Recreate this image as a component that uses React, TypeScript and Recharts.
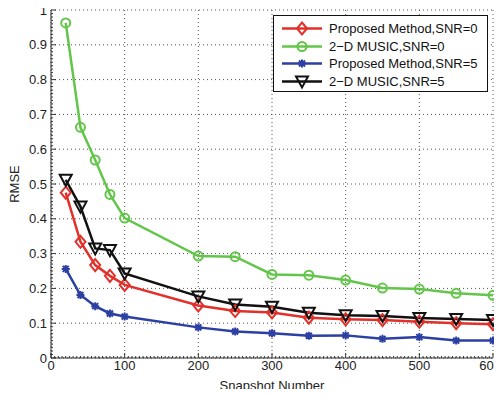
import React from "react";
import { LineChart, Line, XAxis, YAxis, CartesianGrid } from "recharts";

// snapshot counts on the x axis
const snapshots = [20, 40, 60, 80, 100, 200, 250, 300, 350, 400, 450, 500, 550, 600];

const proposedSnr0 = [0.475, 0.334, 0.267, 0.236, 0.21, 0.151, 0.135, 0.131, 0.116, 0.111, 0.109, 0.104, 0.1, 0.097];
const musicSnr0 = [0.963, 0.663, 0.569, 0.47, 0.402, 0.293, 0.291, 0.24, 0.238, 0.224, 0.201, 0.198, 0.186, 0.18];
const proposedSnr5 = [0.256, 0.181, 0.149, 0.128, 0.119, 0.088, 0.076, 0.071, 0.064, 0.065, 0.055, 0.06, 0.05, 0.05];
const musicSnr5 = [0.512, 0.435, 0.315, 0.31, 0.243, 0.177, 0.154, 0.147, 0.13, 0.123, 0.121, 0.115, 0.112, 0.109];

const xTicks = [0, 100, 200, 300, 400, 500, 600];
const yTicks = [0, 0.1, 0.2, 0.3, 0.4, 0.5, 0.6, 0.7, 0.8, 0.9, 1];
// minor ticks, matlab style
const xMinor = Array.from({ length: 121 }, (_, i) => i * 5);
const yMinor = Array.from({ length: 101 }, (_, i) => i / 100);

const RED = "#e2302a";
const GREEN = "#63c64b";
const BLUE = "#2c3fa3";
const BLACK = "#111111";
const AXIS = "#333";

const FONT = "'Liberation Sans', Arial, sans-serif";

const data = snapshots.map((x, i) => ({
    x,
    p0: proposedSnr0[i],
    m0: musicSnr0[i],
    p5: proposedSnr5[i],
    m5: musicSnr5[i],
}));

type Shape = "diamond" | "circle" | "star" | "triangle";

function Marker({ cx, cy, shape, color }: { cx: number; cy: number; shape: Shape; color: string }) {
    if (shape === "diamond") {
        return (
            <path
                d={`M${cx},${cy - 6} L${cx + 5},${cy} L${cx},${cy + 6} L${cx - 5},${cy} Z`}
                fill="none"
                stroke={color}
                strokeWidth={2}
            />
        );
    }
    if (shape === "circle") {
        return <circle cx={cx} cy={cy} r={4.5} fill="none" stroke={color} strokeWidth={2} />;
    }
    if (shape === "triangle") {
        return (
            <path
                d={`M${cx - 6},${cy - 5} L${cx + 6},${cy - 5} L${cx},${cy + 6} Z`}
                fill="none"
                stroke={color}
                strokeWidth={2}
            />
        );
    }
    return (
        <path
            d={`M${cx - 4},${cy} L${cx + 4},${cy} M${cx},${cy - 4} L${cx},${cy + 4} M${cx - 3},${cy - 3} L${cx + 3},${cy + 3} M${cx - 3},${cy + 3} L${cx + 3},${cy - 3}`}
            stroke={color}
            strokeWidth={2}
        />
    );
}

const series: { key: string; label: string; color: string; shape: Shape }[] = [
    { key: "p0", label: "Proposed Method,SNR=0", color: RED, shape: "diamond" },
    { key: "m0", label: "2\u2212D MUSIC,SNR=0", color: GREEN, shape: "circle" },
    { key: "p5", label: "Proposed Method,SNR=5", color: BLUE, shape: "star" },
    { key: "m5", label: "2\u2212D MUSIC,SNR=5", color: BLACK, shape: "triangle" },
];

const isMajorX = (v: number) => v % 100 === 0;
const isMajorY = (v: number) => Math.round(v * 100) % 10 === 0;
const fmtY = (v: number) => (v === 0 ? "0" : v === 1 ? "1" : v.toFixed(1));

// tick renderers: tickSize/tickMargin are 0 so x/y sit on the axis line
function BottomTick({ x, y, payload }: any) {
    const major = isMajorX(payload.value);
    // last label would run off the right edge, pull it in
    const last = payload.value === 600;
    return (
        <g>
            <line x1={x} x2={x} y1={y} y2={y - (major ? 5 : 2)} stroke={AXIS} strokeWidth={1} />
            {major && (
                <text
                    x={last ? 501 : x}
                    y={y + 3}
                    dy="0.71em"
                    textAnchor={last ? "end" : "middle"}
                    fontSize={13}
                    fill="#222"
                    fontFamily={FONT}
                >
                    {payload.value}
                </text>
            )}
        </g>
    );
}

function TopTick({ x, y, payload }: any) {
    const major = isMajorX(payload.value);
    return <line x1={x} x2={x} y1={y} y2={y + (major ? 5 : 2)} stroke={AXIS} strokeWidth={1} />;
}

function LeftTick({ x, y, payload }: any) {
    const major = isMajorY(payload.value);
    return (
        <g>
            <line x1={x} x2={x + (major ? 5 : 2)} y1={y} y2={y} stroke={AXIS} strokeWidth={1} />
            {major && (
                <text x={x - 4} y={y} dy="0.355em" textAnchor="end" fontSize={13} fill="#222" fontFamily={FONT}>
                    {fmtY(payload.value)}
                </text>
            )}
        </g>
    );
}

function RightTick({ x, y, payload }: any) {
    const major = isMajorY(payload.value);
    return <line x1={x} x2={x - (major ? 5 : 2)} y1={y} y2={y} stroke={AXIS} strokeWidth={1} />;
}

export default function App() {
    return (
        <div style={{ margin: -8, position: "relative", width: 502, height: 397, background: "#fff" }}>
            <LineChart width={502} height={397} data={data} margin={{ top: 10, right: 9, bottom: 0, left: 0 }}>
                <CartesianGrid stroke="#555" strokeDasharray="1 3" horizontalValues={yTicks} verticalValues={xTicks} />
                <XAxis
                    dataKey="x"
                    type="number"
                    domain={[0, 600]}
                    ticks={xMinor}
                    interval={0}
                    height={39}
                    tick={<BottomTick />}
                    tickLine={false}
                    tickSize={0}
                    tickMargin={0}
                    stroke={AXIS}
                    label={{ value: "Snapshot Number", position: "center", dy: 8, fontSize: 13, fill: "#222", fontFamily: FONT }}
                />
                <XAxis
                    xAxisId="top"
                    orientation="top"
                    dataKey="x"
                    type="number"
                    domain={[0, 600]}
                    ticks={xMinor}
                    interval={0}
                    height={0}
                    tick={<TopTick />}
                    tickLine={false}
                    tickSize={0}
                    tickMargin={0}
                    stroke={AXIS}
                />
                <YAxis
                    domain={[0, 1]}
                    ticks={yMinor}
                    interval={0}
                    width={51}
                    tick={<LeftTick />}
                    tickLine={false}
                    tickSize={0}
                    tickMargin={0}
                    stroke={AXIS}
                    label={{ value: "RMSE", angle: -90, position: "center", dx: -11.5, fontSize: 13, fill: "#222", fontFamily: FONT }}
                />
                <YAxis
                    yAxisId="right"
                    orientation="right"
                    domain={[0, 1]}
                    ticks={yMinor}
                    interval={0}
                    width={0}
                    tick={<RightTick />}
                    tickLine={false}
                    tickSize={0}
                    tickMargin={0}
                    stroke={AXIS}
                />
                {series.map((s) => (
                    <Line
                        key={s.key}
                        dataKey={s.key}
                        stroke={s.color}
                        strokeWidth={2.5}
                        isAnimationActive={false}
                        dot={(p: any) => (
                            <g key={`${s.key}-${p.index}`}>
                                <Marker cx={p.cx} cy={p.cy} shape={s.shape} color={s.color} />
                            </g>
                        )}
                        activeDot={false}
                    />
                ))}
            </LineChart>
            <div
                style={{
                    position: "absolute",
                    left: 273,
                    top: 15,
                    width: 213,
                    height: 75,
                    border: "1px solid #111",
                    background: "#fff",
                    fontFamily: FONT,
                    fontSize: 13,
                    color: "#111",
                    boxSizing: "content-box",
                }}
            >
                {series.map((s, i) => (
                    <div
                        key={s.key}
                        style={{ position: "absolute", left: 7, top: 4 + i * 17.7, height: 17, display: "flex", alignItems: "center", whiteSpace: "nowrap" }}
                    >
                        <svg width={42} height={17} style={{ display: "block" }}>
                            <line x1={1} y1={8.5} x2={41} y2={8.5} stroke={s.color} strokeWidth={2.5} />
                            <Marker cx={21} cy={8.5} shape={s.shape} color={s.color} />
                        </svg>
                        <span style={{ marginLeft: 6 }}>{s.label}</span>
                    </div>
                ))}
            </div>
        </div>
    );
}
